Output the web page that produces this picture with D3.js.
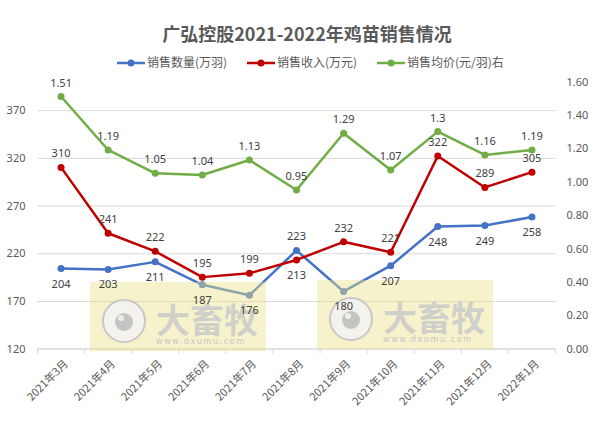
<!DOCTYPE html>
<html>
<head>
<meta charset="utf-8">
<script src="https://cdn.jsdelivr.net/npm/d3@7"></script>
<style>
  body { margin: 0; background: #fff; }
  text { font-family: "Noto Sans CJK SC", "Noto Sans", sans-serif; }
</style>
</head>
<body>
<div id="chart"></div>
<script>
const months = ["2021年3月", "2021年4月", "2021年5月", "2021年6月", "2021年7月", "2021年8月",
    "2021年9月", "2021年10月", "2021年11月", "2021年12月", "2022年1月"];
const quantity = [204, 203, 211, 187, 176, 223, 180, 207, 248, 249, 258];
const income = [310, 241, 222, 195, 199, 213, 232, 221, 322, 289, 305];
const price = [1.51, 1.19, 1.05, 1.04, 1.13, 0.95, 1.29, 1.07, 1.3, 1.16, 1.19];
const leftTicks = [120, 170, 220, 270, 320, 370];
const rightTicks = [0, 0.2, 0.4, 0.6, 0.8, 1.0, 1.2, 1.4, 1.6];
const seriesNames = ["销售数量(万羽)", "销售收入(万元)", "销售均价(元/羽)右"];

const W = 597, H = 423;
const margin = { top: 81.5, right: 41.5, bottom: 74.3, left: 37.5 };
const width = W - margin.left - margin.right;
const height = H - margin.top - margin.bottom;

const colors = ["#4472C4", "#C00000", "#70AD47"];
const textColor = "#595959";

const svg = d3.select("#chart").append("svg")
    .attr("width", W)
    .attr("height", H);

// title
svg.append("text")
    .attr("x", 307)
    .attr("y", 41)
    .attr("text-anchor", "middle")
    .style("font-size", "18px")
    .style("font-weight", "bold")
    .style("fill", textColor)
    .text("广弘控股2021-2022年鸡苗销售情况");

// legend
const legendX = [117, 247, 377];
seriesNames.forEach((name, i) => {
    const lg = svg.append("g").attr("transform", `translate(${legendX[i]},63)`);
    lg.append("line")
        .attr("x1", 0).attr("x2", 28)
        .attr("stroke", colors[i])
        .attr("stroke-width", 2.5);
    lg.append("circle")
        .attr("cx", 14).attr("r", 3.5)
        .attr("fill", colors[i]);
    lg.append("text")
        .attr("x", 30)
        .attr("dy", "0.36em")
        .style("font-size", "12px")
        .style("fill", textColor)
        .text(name);
});

const g = svg.append("g")
    .attr("transform", `translate(${margin.left},${margin.top})`);

const x = d3.scaleBand()
    .domain(months)
    .range([0, width]);

const yLeft = d3.scaleLinear()
    .domain([120, 400])
    .range([height, 0]);

const yRight = d3.scaleLinear()
    .domain([0, 1.6])
    .range([height, 0]);

// gridlines
g.append("g")
    .attr("class", "grid")
    .call(d3.axisLeft(yLeft).tickValues(leftTicks).tickSize(-width).tickFormat(""))
    .call(s => s.select(".domain").remove())
    .call(s => s.selectAll("line").attr("stroke", "#d9d9d9").attr("stroke-width", 1));

// left axis labels
g.append("g")
    .call(d3.axisLeft(yLeft).tickValues(leftTicks).tickSize(0).tickPadding(12))
    .call(s => s.select(".domain").remove())
    .call(s => s.selectAll("text").style("font-size", "11px").style("fill", textColor)
        .style("font-family", "'Noto Sans', sans-serif"));

// right axis labels
g.append("g")
    .attr("transform", `translate(${width},0)`)
    .call(d3.axisRight(yRight).tickValues(rightTicks).tickSize(0).tickPadding(11).tickFormat(d3.format(".2f")))
    .call(s => s.select(".domain").remove())
    .call(s => s.selectAll("text").style("font-size", "11px").style("fill", textColor)
        .style("font-family", "'Noto Sans', sans-serif"));

// bottom axis line and boundary ticks
g.append("line")
    .attr("x1", 0).attr("x2", width)
    .attr("y1", height).attr("y2", height)
    .attr("stroke", "#d9d9d9");

const bounds = months.map(m => x(m)).concat([width]);
g.selectAll(".btick")
    .data(bounds)
    .enter()
    .append("line")
    .attr("class", "btick")
    .attr("x1", d => d).attr("x2", d => d)
    .attr("y1", height).attr("y2", height + 5)
    .attr("stroke", "#d9d9d9");

// bottom labels
g.append("g")
    .attr("transform", `translate(0,${height})`)
    .call(d3.axisBottom(x).tickSize(0).tickFormat(d => d))
    .call(s => s.select(".domain").remove())
    .call(s => s.selectAll("text")
        .attr("text-anchor", "end")
        .attr("dy", "0.35em")
        .attr("y", 0)
        .attr("transform", "translate(5,13) rotate(-45)")
        .style("font-size", "11px")
        .style("fill", textColor));

const cx = d => x(d) + x.bandwidth() / 2;

const series = [
    { values: quantity, scale: yLeft, fmt: d => d, above: quantity.map((d, i) => i === 5) },
    { values: income, scale: yLeft, fmt: d => d, above: income.map((d, i) => i !== 5) },
    { values: price, scale: yRight, fmt: d => d3.format("")(d), above: price.map(() => true) }
];

const seriesPts = series.map(s => months.map((m, j) => ({ m, v: s.values[j], above: s.above[j] })));

// lines and markers
series.forEach((s, i) => {
    const pts = seriesPts[i];
    const line = d3.line()
        .x(d => cx(d.m))
        .y(d => s.scale(d.v));
    g.append("path")
        .datum(pts)
        .attr("d", line)
        .attr("fill", "none")
        .attr("stroke", colors[i])
        .attr("stroke-width", 2.5)
        .attr("stroke-linejoin", "round");
    g.selectAll(null)
        .data(pts)
        .enter()
        .append("circle")
        .attr("cx", d => cx(d.m))
        .attr("cy", d => s.scale(d.v))
        .attr("r", 3.5)
        .attr("fill", colors[i]);
});

// watermark (over lines, under data labels)
[[90, 282], [317, 280]].forEach(([wx, wy]) => {
    const wm = svg.append("g").attr("transform", `translate(${wx},${wy})`);
    wm.append("rect")
        .attr("width", 176).attr("height", 69)
        .attr("fill", "rgb(236,226,140)")
        .attr("opacity", 0.45);
    wm.append("circle")
        .attr("cx", 34).attr("cy", 39).attr("r", 21)
        .attr("fill", "#f2f2f2").attr("fill-opacity", 0.85)
        .attr("stroke", "#c8c8c8").attr("stroke-width", 2);
    wm.append("circle")
        .attr("cx", 34).attr("cy", 40).attr("r", 9)
        .attr("fill", "#c4c4c4");
    wm.append("circle")
        .attr("cx", 31).attr("cy", 36).attr("r", 3)
        .attr("fill", "#eeeeee");
    wm.append("text")
        .attr("x", 66).attr("y", 51)
        .style("font-size", "34px")
        .style("font-weight", "bold")
        .style("fill", "#cacaca")
        .style("fill-opacity", 0.85)
        .text("大畜牧");
    wm.append("text")
        .attr("x", 66).attr("y", 62)
        .style("font-size", "8px")
        .style("letter-spacing", "1.6px")
        .style("font-family", "'DejaVu Sans', sans-serif")
        .style("fill", "#c6c6c6")
        .text("www.dxumu.com");
});

// data labels on top
const labels = svg.append("g")
    .attr("transform", `translate(${margin.left},${margin.top})`);
series.forEach((s, i) => {
    labels.selectAll(null)
        .data(seriesPts[i])
        .enter()
        .append("text")
        .attr("x", d => cx(d.m))
        .attr("y", d => s.scale(d.v) + (d.above ? -10 : 19))
        .attr("text-anchor", "middle")
        .style("font-size", "11px")
        .style("font-family", "'Noto Sans', sans-serif")
        .style("fill", "#404040")
        .text(d => s.fmt(d.v));
});
</script>
</body>
</html>
